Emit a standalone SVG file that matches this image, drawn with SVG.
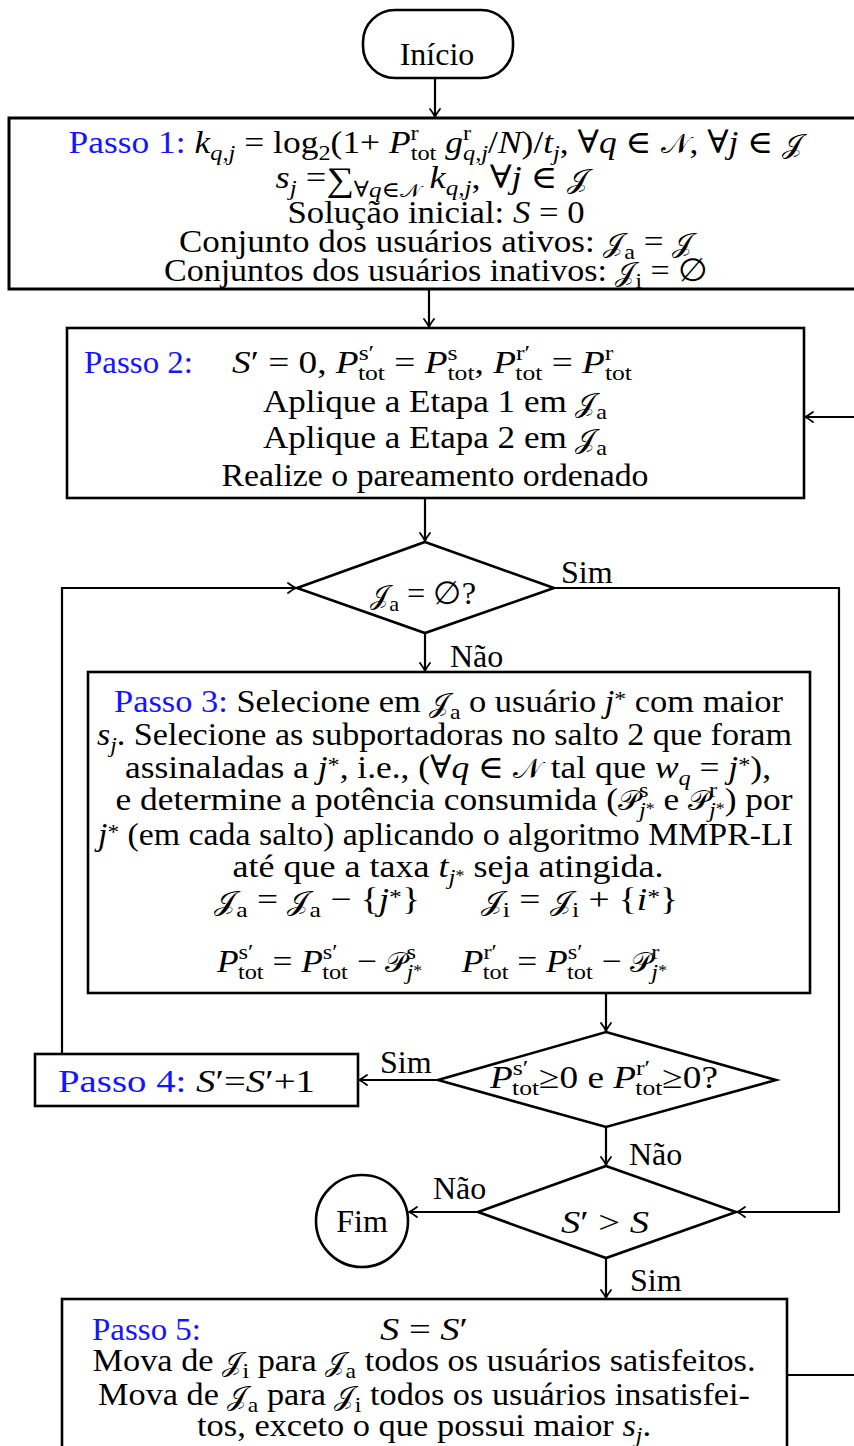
<svg xmlns="http://www.w3.org/2000/svg" width="854" height="1446" viewBox="0 0 854 1446">
<style>
.t{font-family:"Liberation Serif","DejaVu Serif",serif;font-size:32px;fill:#000}
.m{text-anchor:middle}
.b{fill:#1414ff}
.i{font-style:italic}
.s{font-size:22px}
.ss{font-size:16px}
.c{font-size:27px}
.cs{font-size:19px}
.n{fill:#fff;stroke:#000;stroke-width:2.6}
.e{fill:none;stroke:#000;stroke-width:2.2}
</style>
<defs>
<marker id="ar" viewBox="-10 -7 12 14" refX="0" refY="0" markerWidth="12" markerHeight="14" markerUnits="userSpaceOnUse" orient="auto">
<path d="M-8,-5 Q-3,-1.2 0,0 Q-3,1.2 -8,5" fill="none" stroke="#000" stroke-width="1.8" stroke-linecap="round"/>
</marker>
</defs>
<g id="connectors">
<path class="e" d="M435,78 V117" marker-end="url(#ar)"/>
<path class="e" d="M429,290 V327" marker-end="url(#ar)"/>
<path class="e" d="M860,417 H805" marker-end="url(#ar)"/>
<path class="e" d="M425,498 V541" marker-end="url(#ar)"/>
<path class="e" d="M62,1054 V588 H296" marker-end="url(#ar)"/>
<path class="e" d="M554,588 H839 V1212 H737" marker-end="url(#ar)"/>
<path class="e" d="M425,633 V671" marker-end="url(#ar)"/>
<path class="e" d="M606,993 V1031" marker-end="url(#ar)"/>
<path class="e" d="M438,1080 H359" marker-end="url(#ar)"/>
<path class="e" d="M606,1127 V1165" marker-end="url(#ar)"/>
<path class="e" d="M478,1212 H409" marker-end="url(#ar)"/>
<path class="e" d="M606,1258 V1298" marker-end="url(#ar)"/>
<path class="e" d="M787,1375 H860"/>
</g>
<g id="labels">
<text class="t" x="561" y="583">Sim</text>
<text class="t" x="450" y="667">Não</text>
<text class="t" x="380" y="1073">Sim</text>
<text class="t" x="629" y="1165">Não</text>
<text class="t" x="433" y="1199">Não</text>
<text class="t" x="630" y="1291">Sim</text>
</g>
<g id="inicio">
<rect class="n" x="363" y="10" width="150" height="68" rx="32"/>
<text class="t m" x="437" y="65">Início</text>
</g>
<g id="passo1">
<rect class="n" x="9" y="118" width="860" height="171" style="stroke-width:3"/>
<text class="t m" x="436" y="153" textLength="735" lengthAdjust="spacingAndGlyphs"><tspan class="b">Passo 1:</tspan> <tspan class="i">k</tspan><tspan class="s i" dy="7">q,j</tspan><tspan dy="-7"> = log</tspan><tspan class="s" dy="7">2</tspan><tspan dy="-7">(1+ </tspan><tspan class="i">P</tspan><tspan class="s" dy="-13">r</tspan><tspan class="s" dx="-7.3" dy="20">tot</tspan><tspan dy="-7"> </tspan><tspan class="i">g</tspan><tspan class="s" dy="-13">r</tspan><tspan class="s i" dx="-7.3" dy="20">q,j</tspan><tspan dy="-7">/</tspan><tspan class="i">N</tspan>)/<tspan class="i">t</tspan><tspan class="s i" dy="7">j</tspan><tspan dy="-7">, ∀</tspan><tspan class="i">q</tspan> ∈ <tspan class="c">𝒩</tspan>, ∀<tspan class="i">j</tspan> ∈ <tspan class="c">𝒥</tspan></text>
<text class="t m" x="432" y="188" textLength="313" lengthAdjust="spacingAndGlyphs"><tspan class="i">s</tspan><tspan class="s i" dy="7">j</tspan><tspan dy="-7"> =</tspan><tspan style="font-size:34px" dy="3">∑</tspan><tspan class="s" dy="6">∀</tspan><tspan class="s i">q</tspan><tspan class="s">∈</tspan><tspan class="cs">𝒩</tspan><tspan dy="-9"> </tspan><tspan class="i">k</tspan><tspan class="s i" dy="7">q,j</tspan><tspan dy="-7">, ∀</tspan><tspan class="i">j</tspan> ∈ <tspan class="c">𝒥</tspan></text>
<text class="t m" x="436" y="223" textLength="297" lengthAdjust="spacingAndGlyphs">Solução inicial: <tspan class="i">S</tspan> = 0</text>
<text class="t m" x="436" y="252" textLength="514" lengthAdjust="spacingAndGlyphs">Conjunto dos usuários ativos: <tspan class="c">𝒥</tspan><tspan class="s" dy="7">a</tspan><tspan dy="-7"> = </tspan><tspan class="c">𝒥</tspan></text>
<text class="t m" x="436" y="281" textLength="544" lengthAdjust="spacingAndGlyphs">Conjuntos dos usuários inativos: <tspan class="c">𝒥</tspan><tspan class="s" dy="7">i</tspan><tspan dy="-7"> = ∅</tspan></text>
</g>
<g id="passo2">
<rect class="n" x="67" y="328" width="737" height="170"/>
<text class="t b" x="84" y="373" textLength="109" lengthAdjust="spacingAndGlyphs">Passo 2:</text>
<text class="t" x="232" y="373" textLength="400" lengthAdjust="spacingAndGlyphs"><tspan class="i">S</tspan>′ = 0, <tspan class="i">P</tspan><tspan class="s" dy="-13">s′</tspan><tspan class="s" dx="-14" dy="20">tot</tspan><tspan dy="-7"> = </tspan><tspan class="i">P</tspan><tspan class="s" dy="-13">s</tspan><tspan class="s" dx="-8.6" dy="20">tot</tspan><tspan dy="-7">, </tspan><tspan class="i">P</tspan><tspan class="s" dy="-13">r′</tspan><tspan class="s" dx="-12.8" dy="20">tot</tspan><tspan dy="-7"> = </tspan><tspan class="i">P</tspan><tspan class="s" dy="-13">r</tspan><tspan class="s" dx="-7.3" dy="20">tot</tspan></text>
<text class="t m" x="435" y="412" textLength="344" lengthAdjust="spacingAndGlyphs">Aplique a Etapa 1 em <tspan class="c">𝒥</tspan><tspan class="s" dy="7">a</tspan></text>
<text class="t m" x="435" y="448" textLength="344" lengthAdjust="spacingAndGlyphs">Aplique a Etapa 2 em <tspan class="c">𝒥</tspan><tspan class="s" dy="7">a</tspan></text>
<text class="t m" x="435" y="486" textLength="427" lengthAdjust="spacingAndGlyphs">Realize o pareamento ordenado</text>
</g>
<g id="decisao1">
<polygon class="n" points="425,542 554,588 425,633 297,588"/>
<text class="t m" x="423" y="604" textLength="106" lengthAdjust="spacingAndGlyphs"><tspan class="c">𝒥</tspan><tspan class="s" dy="7">a</tspan><tspan dy="-7"> = ∅?</tspan></text>
</g>
<g id="passo3">
<rect class="n" x="88" y="672" width="722" height="321"/>
<text class="t m" x="448.5" y="712" textLength="669" lengthAdjust="spacingAndGlyphs"><tspan class="b">Passo 3:</tspan> Selecione em <tspan class="c">𝒥</tspan><tspan class="s" dy="7">a</tspan><tspan dy="-7"> o usuário </tspan><tspan class="i">j</tspan><tspan class="s" dy="-6">*</tspan><tspan dy="6"> com maior</tspan></text>
<text class="t m" x="444.5" y="745" textLength="695" lengthAdjust="spacingAndGlyphs"><tspan class="i">s</tspan><tspan class="s i" dy="7">j</tspan><tspan dy="-7">. Selecione as subportadoras no salto 2 que foram</tspan></text>
<text class="t m" x="448" y="778" textLength="646" lengthAdjust="spacingAndGlyphs">assinaladas a <tspan class="i">j</tspan><tspan class="s" dy="-6">*</tspan><tspan dy="6">, i.e., (∀</tspan><tspan class="i">q</tspan> ∈ <tspan class="c">𝒩</tspan> tal que <tspan class="i">w</tspan><tspan class="s i" dy="7">q</tspan><tspan dy="-7"> = </tspan><tspan class="i">j</tspan><tspan class="s" dy="-6">*</tspan><tspan dy="6">),</tspan></text>
<text class="t m" x="454" y="810" textLength="677" lengthAdjust="spacingAndGlyphs">e determine a potência consumida (<tspan class="c">𝒫</tspan><tspan class="s" dy="-13">s</tspan><tspan class="s i" dx="-8.6" dy="20">j</tspan><tspan class="ss" dy="-3">*</tspan><tspan dy="-4"> e </tspan><tspan class="c">𝒫</tspan><tspan class="s" dy="-13">r</tspan><tspan class="s i" dx="-7.3" dy="20">j</tspan><tspan class="ss" dy="-3">*</tspan><tspan dy="-4">) por</tspan></text>
<text class="t m" x="445.5" y="845" textLength="695" lengthAdjust="spacingAndGlyphs"><tspan class="i">j</tspan><tspan class="s" dy="-6">*</tspan><tspan dy="6"> (em cada salto) aplicando o algoritmo MMPR-LI</tspan></text>
<text class="t m" x="448" y="877" textLength="431" lengthAdjust="spacingAndGlyphs">até que a taxa <tspan class="i">t</tspan><tspan class="s i" dy="7">j</tspan><tspan class="ss" dy="-3">*</tspan><tspan dy="-4"> seja atingida.</tspan></text>
<text class="t m" x="446" y="910" textLength="464" lengthAdjust="spacingAndGlyphs"><tspan class="c">𝒥</tspan><tspan class="s" dy="7">a</tspan><tspan dy="-7"> = </tspan><tspan class="c">𝒥</tspan><tspan class="s" dy="7">a</tspan><tspan dy="-7"> − {</tspan><tspan class="i">j</tspan><tspan class="s" dy="-6">*</tspan><tspan dy="6">}</tspan><tspan dx="52" class="c">𝒥</tspan><tspan class="s" dy="7">i</tspan><tspan dy="-7"> = </tspan><tspan class="c">𝒥</tspan><tspan class="s" dy="7">i</tspan><tspan dy="-7"> + {</tspan><tspan class="i">i</tspan><tspan class="s" dy="-6">*</tspan><tspan dy="6">}</tspan></text>
<text class="t m" x="442" y="972" textLength="450" lengthAdjust="spacingAndGlyphs"><tspan class="i">P</tspan><tspan class="s" dy="-13">s′</tspan><tspan class="s" dx="-14" dy="20">tot</tspan><tspan dy="-7"> = </tspan><tspan class="i">P</tspan><tspan class="s" dy="-13">s′</tspan><tspan class="s" dx="-14" dy="20">tot</tspan><tspan dy="-7"> − </tspan><tspan class="c">𝒫</tspan><tspan class="s" dy="-13">s</tspan><tspan class="s i" dx="-8.6" dy="20">j</tspan><tspan class="ss" dy="-3">*</tspan><tspan dy="-4" dx="28"> </tspan><tspan class="i">P</tspan><tspan class="s" dy="-13">r′</tspan><tspan class="s" dx="-12.8" dy="20">tot</tspan><tspan dy="-7"> = </tspan><tspan class="i">P</tspan><tspan class="s" dy="-13">s′</tspan><tspan class="s" dx="-14" dy="20">tot</tspan><tspan dy="-7"> − </tspan><tspan class="c">𝒫</tspan><tspan class="s" dy="-13">r</tspan><tspan class="s i" dx="-7.3" dy="20">j</tspan><tspan class="ss" dy="-3">*</tspan></text>
</g>
<g id="decisao2">
<polygon class="n" points="606,1032 776,1080 606,1127 438,1080"/>
<text class="t m" x="604" y="1088" textLength="228" lengthAdjust="spacingAndGlyphs"><tspan class="i">P</tspan><tspan class="s" dy="-13">s′</tspan><tspan class="s" dx="-14" dy="20">tot</tspan><tspan dy="-7">≥0 e </tspan><tspan class="i">P</tspan><tspan class="s" dy="-13">r′</tspan><tspan class="s" dx="-12.8" dy="20">tot</tspan><tspan dy="-7">≥0?</tspan></text>
</g>
<g id="passo4">
<rect class="n" x="35" y="1054" width="323" height="52"/>
<text class="t" x="58" y="1092" textLength="257" lengthAdjust="spacingAndGlyphs"><tspan class="b">Passo 4:</tspan> <tspan class="i">S</tspan>′=<tspan class="i">S</tspan>′+1</text>
</g>
<g id="decisao3">
<polygon class="n" points="606,1166 736,1212 606,1258 478,1212"/>
<text class="t m" x="605" y="1233" textLength="88" lengthAdjust="spacingAndGlyphs"><tspan class="i">S</tspan>′ &gt; <tspan class="i">S</tspan></text>
</g>
<g id="fim">
<circle class="n" cx="362" cy="1221" r="46"/>
<text class="t m" x="362" y="1232">Fim</text>
</g>
<g id="passo5">
<rect class="n" x="62" y="1299" width="725" height="170"/>
<text class="t b" x="92" y="1340" textLength="109" lengthAdjust="spacingAndGlyphs">Passo 5:</text>
<text class="t m" x="424" y="1340" textLength="88" lengthAdjust="spacingAndGlyphs"><tspan class="i">S</tspan> = <tspan class="i">S</tspan>′</text>
<text class="t m" x="424" y="1371" textLength="663" lengthAdjust="spacingAndGlyphs">Mova de <tspan class="c">𝒥</tspan><tspan class="s" dy="7">i</tspan><tspan dy="-7"> para </tspan><tspan class="c">𝒥</tspan><tspan class="s" dy="7">a</tspan><tspan dy="-7"> todos os usuários satisfeitos.</tspan></text>
<text class="t m" x="424" y="1405" textLength="652" lengthAdjust="spacingAndGlyphs">Mova de <tspan class="c">𝒥</tspan><tspan class="s" dy="7">a</tspan><tspan dy="-7"> para </tspan><tspan class="c">𝒥</tspan><tspan class="s" dy="7">i</tspan><tspan dy="-7"> todos os usuários insatisfei-</tspan></text>
<text class="t m" x="424" y="1436" textLength="454" lengthAdjust="spacingAndGlyphs">tos, exceto o que possui maior <tspan class="i">s</tspan><tspan class="s i" dy="6">j</tspan><tspan dy="-6">.</tspan></text>
</g>
</svg>
